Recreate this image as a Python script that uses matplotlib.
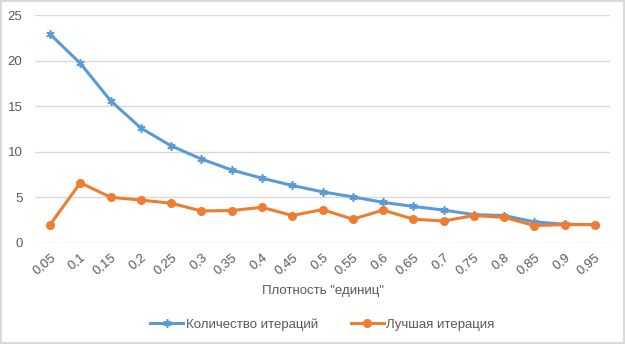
import matplotlib.pyplot as plt
import numpy as np

plt.rcParams['font.family'] = ['Liberation Sans', 'DejaVu Sans']

density = ['0,05', '0,1', '0,15', '0,2', '0,25', '0,3', '0,35', '0,4', '0,45', '0,5',
           '0,55', '0,6', '0,65', '0,7', '0,75', '0,8', '0,85', '0,9', '0,95']
iterations = [22.9, 19.7, 15.6, 12.6, 10.65, 9.2, 8.0, 7.1, 6.3, 5.6,
              5.05, 4.45, 4.0, 3.6, 3.1, 3.0, 2.3, 2.05, 2.0]
best_iter = [2.0, 6.6, 5.0, 4.7, 4.35, 3.5, 3.55, 3.9, 3.0, 3.65,
             2.6, 3.6, 2.6, 2.4, 3.0, 2.8, 1.9, 2.0, 2.0]

blue = '#5b9bd5'
orange = '#ed7d31'
grey = '#595959'

fig = plt.figure(figsize=(6.25, 3.44), dpi=100)
fig.patch.set_edgecolor('#d9d9d9')
fig.patch.set_linewidth(1.5)
ax = fig.add_axes([0.056, 0.294, 0.92, 0.662])

x = np.arange(len(density))
ax.plot(x, iterations, color=blue, lw=2.2, marker=(6, 2, 0), ms=6,
        mec=blue, mew=1.2, label='Количество итераций')
ax.plot(x, best_iter, color=orange, lw=2.2, marker='o', ms=5.5,
        label='Лучшая итерация')

ax.set_xlim(-0.5, len(density) - 0.5)
ax.set_ylim(0, 25)
ax.set_yticks(range(0, 26, 5))
ax.set_xticks(x)
ax.set_xticklabels(density, rotation=40, ha='right', rotation_mode='anchor')
ax.tick_params(axis='both', length=0, labelsize=9.5, labelcolor=grey)
ax.tick_params(axis='x', pad=6)
ax.tick_params(axis='y', pad=9)
ax.grid(axis='y', color='#d9d9d9', lw=1)
ax.set_axisbelow(True)
for s in ax.spines.values():
    s.set_visible(False)

ax.set_xlabel('Плотность "единиц"', fontsize=9.5, color=grey, labelpad=6)
ax.legend(loc='center', bbox_to_anchor=(0.5, -0.36), ncol=2, frameon=False,
          fontsize=9.5, labelcolor=grey, handlelength=2.5, columnspacing=2.5,
          handletextpad=0.2)

fig.savefig('out.png', dpi=100)
